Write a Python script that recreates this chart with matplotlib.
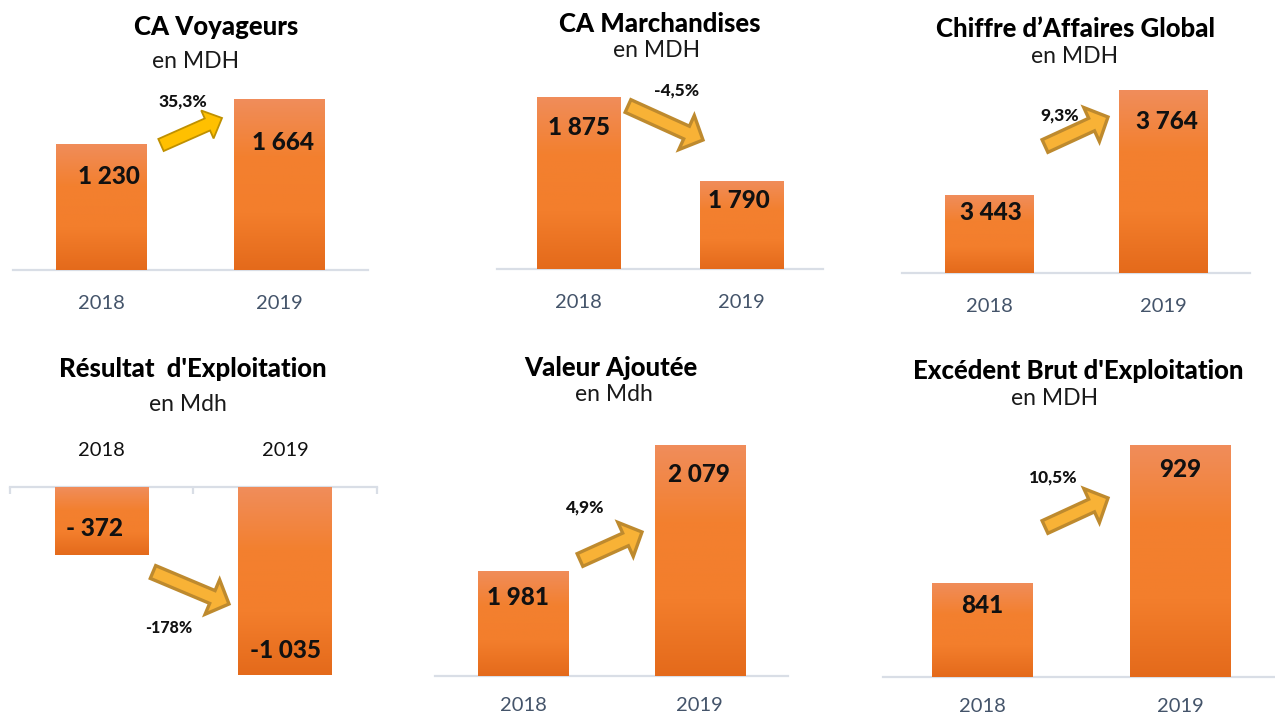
import numpy as np
import matplotlib.pyplot as plt
from matplotlib.colors import LinearSegmentedColormap
from matplotlib.patches import FancyArrowPatch, ArrowStyle

plt.rcParams['font.family'] = ['Lato', 'DejaVu Sans']

# data
years = ['2018', '2019']
titles = ['CA Voyageurs', 'CA Marchandises', 'Chiffre d\u2019Affaires Global',
          "Résultat  d'Exploitation", 'Valeur Ajoutée', "Excédent Brut d'Exploitation"]
units = ['en MDH', 'en MDH', 'en MDH', 'en Mdh', 'en Mdh', 'en MDH']
ca_voyageurs = [1230, 1664]
ca_marchandises = [1875, 1790]
ca_global = [3443, 3764]
resultat = [-372, -1035]
valeur_ajoutee = [1981, 2079]
ebe = [841, 929]
variations = ['35,3%', '-4,5%', '9,3%', '-178%', '4,9%', '10,5%']

W, H = 1275, 715
fig = plt.figure(figsize=(W / 100, H / 100), dpi=100)

def px(x, y):
    # pixel position (from top-left) -> figure fraction
    return x / W, 1 - y / H

def fmt(v):
    s = f"{abs(v):,}".replace(',', ' ')
    if v < 0:
        return ('- ' if abs(v) < 1000 else '-') + s
    return s

cmap = LinearSegmentedColormap.from_list('bar', ['#F08D5B', '#F3802F', '#F37E2C', '#E46A1B'])
grad = np.linspace(0, 1, 256).reshape(-1, 1)

# layout of each panel: axes box in pixels (left, right, top, bottom), y limits
boxes = [(13, 368, 80, 270), (497, 823, 80, 269), (902, 1250, 80, 273),
         (10, 377, 487, 700), (435, 788, 430, 676), (883, 1279, 430, 677)]
ylims = [(0, 1849), (1701, 1892), (3205, 3795), (-1173, 0), (1899, 2091), (781, 938.5)]
label_offsets = [[(7, -33), (4, -43)], [(1, -31), (-3, -20)], [(2, -17), (4, -31)],
                 [(-7, -41), (0, -163)], [(-5, -27), (-1, -29)], [(0, -23), (0, -25)]]
title_pos = [(216, 35), (660, 32), (1075, 37), (193, 377), (611, 376), (1078, 379)]
unit_pos = [(196, 68), (657, 57), (1075, 63), (188, 411), (614, 401), (1055, 405)]
tick_pad = [18, 18, 18, 20, 15, 15]
arrows = [((161, 145), (222, 118)), ((628, 106), (703, 140)), ((1045, 146), (1108, 117)),
          ((153, 572), (229, 604)), ((580, 560), (642, 532)), ((1045, 527), (1108, 498))]
pct_pos = [(183, 101), (677, 90), (1060, 115), (169, 628), (585, 507), (1053, 477)]

series = [ca_voyageurs, ca_marchandises, ca_global, resultat, valeur_ajoutee, ebe]

for k, vals in enumerate(series):
    l, r, t, b = boxes[k]
    x0, y0 = px(l, b)
    x1, y1 = px(r, t)
    ax = fig.add_axes([x0, y0, x1 - x0, y1 - y0])
    xs = np.arange(len(years))
    bars = ax.bar(xs, vals, width=0.51, color='#F37E2C', zorder=2)
    lo_lim, hi_lim = ylims[k]
    for bar, xv, v in zip(bars, xs, vals):
        lo = max(min(0, v), lo_lim)
        hi = min(max(0, v), hi_lim)
        im = ax.imshow(grad, cmap=cmap, aspect='auto', origin='upper',
                       extent=(xv - 0.255, xv + 0.255, lo, hi), zorder=3)
        im.set_clip_path(bar)
    ax.set_xlim(-0.5, 1.5)
    ax.set_ylim(lo_lim, hi_lim)
    ax.set_yticks([])
    ax.set_xticks(xs)
    ax.set_xticklabels(years)
    for s in ['left', 'right', 'top', 'bottom']:
        ax.spines[s].set_visible(False)
    ax.patch.set_alpha(0)
    if k == 3:
        ax.spines['top'].set_visible(True)
        ax.spines['top'].set_color('#D9DEE6')
        ax.spines['top'].set_linewidth(1.6)
        ax.xaxis.tick_top()
        ax.tick_params(axis='x', which='major', length=0, pad=tick_pad[k], labelsize=14.5,
                       labelcolor='#111111')
        ax.set_xticks([-0.5, 0.5, 1.5], minor=True)
        ax.tick_params(axis='x', which='minor', direction='in', length=5, width=1.6,
                       color='#D9DEE6', top=True, bottom=False)
    else:
        ax.spines['bottom'].set_visible(True)
        ax.spines['bottom'].set_color('#D9DEE6')
        ax.spines['bottom'].set_linewidth(1.6)
        ax.tick_params(axis='x', length=0, pad=tick_pad[k], labelsize=14.5,
                       labelcolor='#44546A')

    for xv, v, (dx, dy) in zip(xs, vals, label_offsets[k]):
        ax.annotate(fmt(v), xy=(xv, max(v, 0)), xytext=(dx, dy), textcoords='offset pixels',
                    ha='center', va='center', fontsize=17.5, fontweight='black',
                    color='#111111', zorder=5, annotation_clip=False)

    tx, ty = px(*title_pos[k])
    fig.text(tx, ty, titles[k], ha='center', va='baseline', fontsize=18.5,
             fontweight='black', color='#000000')
    ux, uy = px(*unit_pos[k])
    fig.text(ux, uy, units[k], ha='center', va='baseline', fontsize=16.5, color='#1A1A1A')

    # variation arrow + percentage
    if k == 0:
        style = ArrowStyle('Simple', head_length=11.5, head_width=22, tail_width=9.5)
        fc, ec, lw = '#FFC000', '#BF9000', 1.3
    else:
        style = ArrowStyle('Simple', head_length=13, head_width=27, tail_width=10)
        fc, ec, lw = '#F8B236', '#BE8A2E', 2.4
    a, bpt = arrows[k]
    arr = FancyArrowPatch(px(*a), px(*bpt), transform=fig.transFigure, arrowstyle=style,
                          mutation_scale=1, facecolor=fc, edgecolor=ec, linewidth=lw,
                          shrinkA=0, shrinkB=0, joinstyle='miter', zorder=6)
    fig.add_artist(arr)
    ppx, ppy = px(*pct_pos[k])
    fig.text(ppx, ppy, variations[k], ha='center', va='center',
             fontsize=11.5 if k == 3 else 12.5,
             fontweight='black', color='#111111', zorder=5)

fig.savefig('out.png', dpi=100)
